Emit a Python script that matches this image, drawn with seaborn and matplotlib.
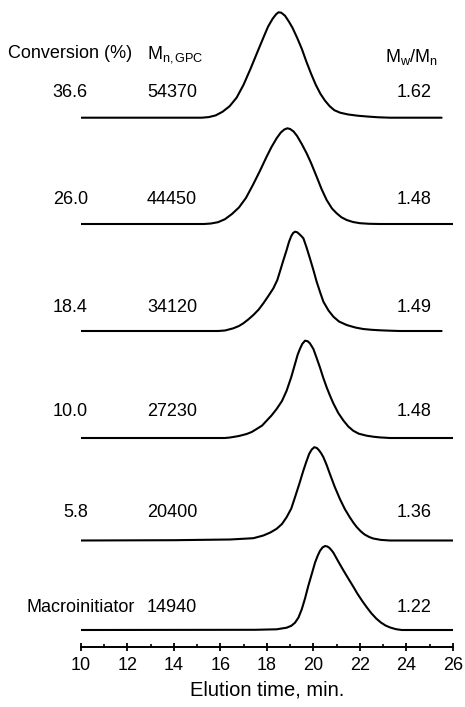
import matplotlib
matplotlib.use('Agg')
import matplotlib.pyplot as plt
from matplotlib.ticker import MultipleLocator
import pandas as pd
import seaborn as sns

# -----------------------------------------------------------------------
# GPC traces: elution time (min) and detector signal (a.u.)
t_366 = [10.0, 15.2, 15.5, 15.8, 16.1, 16.4, 16.7, 17.0, 17.3, 17.6, 17.85,
         18.05, 18.25, 18.4, 18.5, 18.62, 18.78, 18.95, 19.1, 19.3, 19.5,
         19.7, 19.9, 20.1, 20.3, 20.5, 20.7, 20.9, 21.15, 21.5, 21.9,
         22.3, 22.8, 23.3, 25.51]
s_366 = [0, 0, 0.6, 2.3, 6, 11.5, 20, 33, 49, 66, 80,
         91, 99, 103.5, 105.4, 105, 102, 96, 90, 80, 69,
         56, 44, 33, 24, 17, 11.5, 7.5, 5, 3.2, 2,
         1.2, 0.4, 0, 0]

t_260 = [10.0, 15.3, 15.6, 15.9, 16.2, 16.5, 16.8, 17.1, 17.4, 17.7, 17.99,
         18.2, 18.42, 18.6, 18.75, 18.88, 19.0, 19.15, 19.3, 19.5, 19.71,
         19.9, 20.14, 20.35, 20.57, 20.8, 21.0, 21.2, 21.43, 21.7, 22.0,
         22.4, 22.86, 26.0]
s_260 = [0, 0, 0.5, 1.8, 4.8, 10, 16.5, 26, 39, 53, 67.3,
         77, 85.7, 91.5, 94.5, 95.7, 95, 92.5, 88, 80, 70.7,
         61, 47.3, 35, 24, 15.5, 10.7, 6.8, 4, 2, 0.8,
         0.2, 0, 0]

t_184 = [10.0, 15.9, 16.2, 16.56, 16.8, 16.99, 17.2, 17.42, 17.65, 17.85, 18.05,
         18.28, 18.45, 18.56, 18.7, 18.85, 18.95, 19.05, 19.13, 19.21, 19.3,
         19.39, 19.48, 19.57, 19.7, 19.85, 20.0, 20.14, 20.3, 20.43, 20.65,
         20.86, 21.1, 21.43, 21.8, 22.14, 22.5, 22.86, 23.3, 23.72, 25.51]
s_184 = [0, 0, 0.5, 2.7, 5, 7.7, 11.5, 16, 21.5, 27.7, 34.5,
         42.7, 51, 59.3, 70, 81, 89, 95, 98, 99.3, 98.8,
         97, 95, 92.7, 84, 72.7, 61, 49.3, 38, 29.3, 20.5,
         14.3, 9.5, 6, 3.5, 2, 1.2, 0.7, 0.3, 0, 0]

t_100 = [10.0, 16.2, 16.42, 16.8, 17.13, 17.35, 17.56, 17.8, 17.99, 18.2, 18.42,
         18.65, 18.85, 19.05, 19.21, 19.32, 19.42, 19.52, 19.64, 19.75, 19.85,
         20.0, 20.14, 20.28, 20.42, 20.57, 20.72, 20.86, 21.07, 21.28, 21.5,
         21.71, 21.95, 22.29, 22.6, 22.86, 23.29, 26.0]
s_100 = [0, 0, 0.5, 2, 4, 6, 9, 12.5, 17.3, 22.5, 29,
         37, 47.3, 61, 74, 83, 89, 94, 97.3, 96.8, 94.7,
         89, 80, 70.7, 60.5, 50.7, 42, 34.5, 25, 17.8, 11.5,
         7.3, 4.3, 2.3, 1.2, 0.6, 0, 0]

t_58 = [10.0, 14.0, 16.42, 17.42, 17.85, 18.15, 18.42, 18.65, 18.85, 19.05, 19.21,
        19.4, 19.57, 19.7, 19.82, 19.93, 20.04, 20.15, 20.25, 20.34, 20.43,
        20.57, 20.71, 20.92, 21.14, 21.35, 21.57, 21.72, 21.86, 22.03, 22.2,
        22.4, 22.57, 22.9, 23.29, 26.0]
s_58 = [0, 0.3, 1, 2.3, 5, 8, 11.7, 16.5, 23.3, 32, 43.3,
        57, 70, 79, 86.7, 91, 93.3, 92.5, 90, 87, 83.3,
        75.5, 66.5, 53.5, 41.5, 31.5, 23, 17.8, 13.5, 9.3, 6,
        3.5, 2, 0.6, 0, 0]

t_macro = [10.0, 17.5, 18.42, 18.85, 19.05, 19.21, 19.36, 19.5, 19.64, 19.78, 19.93,
           20.07, 20.18, 20.28, 20.39, 20.5, 20.6, 20.68, 20.77, 20.86, 21.07,
           21.28, 21.5, 21.71, 21.9, 22.1, 22.3, 22.5, 22.7, 22.9, 23.1,
           23.3, 23.55, 23.8, 26.0]
s_macro = [0, 0.2, 0.7, 2.3, 4.2, 7.3, 12.5, 20.7, 31.5, 44, 56,
           67.3, 74, 79, 82.5, 84, 83.5, 82.3, 80, 77.3, 68.5,
           60, 51.5, 43.5, 36, 29, 22.5, 16.5, 11.5, 7.5, 4.5,
           2.5, 0.8, 0, 0]

conversion = ['36.6', '26.0', '18.4', '10.0', '5.8', 'Macroinitiator']
mn_gpc = ['54370', '44450', '34120', '27230', '20400', '14940']
pdi = ['1.62', '1.48', '1.49', '1.48', '1.36', '1.22']

# -----------------------------------------------------------------------
# Layout of the stack (vertical offset of every baseline, label heights)
offsets = [529.3, 423, 316, 209, 106.5, 17]
label_y = [550.3, 443.5, 335.5, 230.5, 130.3, 35.3]

times = [t_366, t_260, t_184, t_100, t_58, t_macro]
signals = [s_366, s_260, s_184, s_100, s_58, s_macro]

frames = []
for j, (t, s) in enumerate(zip(times, signals)):
    df = pd.DataFrame({'Time': t, 'Signal': s})
    df['Trace'] = j
    df['Y'] = df.Signal + offsets[j]
    frames.append(df)
traces = pd.concat(frames, ignore_index=True)

# -----------------------------------------------------------------------
sns.set_style('white')
plt.rcParams['font.family'] = ['Liberation Sans', 'DejaVu Sans']
plt.rcParams['mathtext.fontset'] = 'custom'
plt.rcParams['mathtext.rm'] = 'Liberation Sans'
plt.rcParams['mathtext.it'] = 'Liberation Sans'
for key in ['text.color', 'axes.labelcolor', 'xtick.color', 'ytick.color',
            'axes.edgecolor']:
    plt.rcParams[key] = 'black'

fig = plt.figure(figsize=(4.65, 7.07), dpi=100)
ax = fig.add_axes([80.7 / 465, 1 - 647 / 707, (453 - 80.7) / 465, 647 / 707])

sns.lineplot(data=traces, x='Time', y='Y', units='Trace', estimator=None,
             sort=False, color='black', linewidth=1.5, ax=ax)
for line in ax.lines:
    line.set_solid_joinstyle('round')

ax.set_xlim(10, 26)
ax.set_ylim(0, 647)
for side in ['left', 'right', 'top']:
    ax.spines[side].set_visible(False)
ax.spines['bottom'].set_linewidth(1.4)
ax.set_yticks([])
ax.set_ylabel('')
ax.xaxis.set_major_locator(MultipleLocator(2))
ax.xaxis.set_minor_locator(MultipleLocator(1))
ax.tick_params(axis='x', which='major', direction='inout', length=6, width=1.3,
               labelsize=13, pad=4, bottom=True)
ax.tick_params(axis='x', which='minor', direction='in', length=2.5, width=1.2,
               bottom=True)
ax.set_xlabel('Elution time, min.', fontsize=14.5, labelpad=5)

# Column headers
ax.text(6.88, 588.7, 'Conversion (%)', fontsize=13, ha='left', va='baseline',
        clip_on=False)
ax.text(12.85, 588.7, r'M$_{\mathrm{n,GPC}}$', fontsize=13, ha='left',
        va='baseline')
ax.text(23.08, 585.0, r'M$_{\mathrm{w}}$/M$_{\mathrm{n}}$', fontsize=13,
        ha='left', va='baseline')

# Row labels
for j in range(len(conversion)):
    if conversion[j] == 'Macroinitiator':
        ax.text(12.34, label_y[j], conversion[j], fontsize=13, ha='right',
                va='baseline', clip_on=False)
    else:
        ax.text(10.31, label_y[j], conversion[j], fontsize=13, ha='right',
                va='baseline', clip_on=False)
    ax.text(12.85, label_y[j], mn_gpc[j], fontsize=13, ha='left', va='baseline')
    ax.text(25.06, label_y[j], pdi[j], fontsize=13, ha='right', va='baseline')

fig.savefig('out.png', dpi=100)
